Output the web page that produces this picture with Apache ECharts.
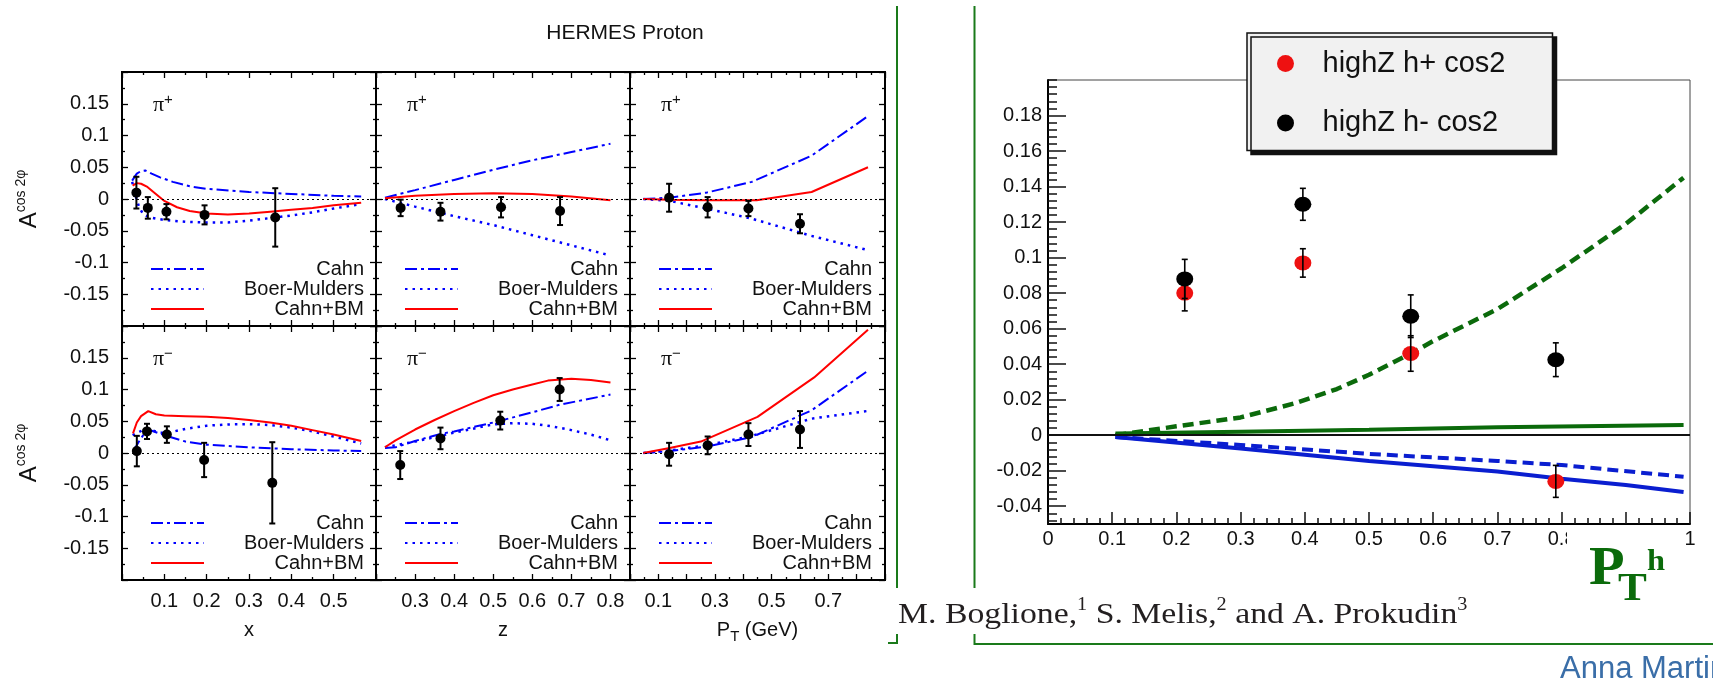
<!DOCTYPE html>
<html>
<head>
<meta charset="utf-8">
<script src="https://cdn.jsdelivr.net/npm/echarts@6/dist/echarts.min.js"></script>
<style>
html,body{margin:0;padding:0;background:#fff;}
#c{width:1713px;height:684px;}
</style>
</head>
<body>
<div id="c"></div>
<script>
// ================= DATA =================
// ---- HERMES proton, pi+ vs x ----
const ppX_x    = [0.034, 0.061, 0.105, 0.195, 0.362];
const ppX_y    = [0.010, -0.014, -0.020, -0.025, -0.029];
const ppX_err  = [0.025, 0.017, 0.012, 0.015, 0.046];
const ppX_cahn = [[0.024,0.029],[0.035,0.040],[0.045,0.044],[0.055,0.045],[0.07,0.040],[0.09,0.034],[0.12,0.027],[0.16,0.020],[0.2,0.016],[0.3,0.011],[0.4,0.008],[0.5,0.005],[0.565,0.004]];
const ppX_bm   = [[0.024,0.027],[0.03,0.010],[0.04,-0.012],[0.05,-0.024],[0.065,-0.029],[0.08,-0.031],[0.1,-0.033],[0.15,-0.036],[0.2,-0.037],[0.25,-0.037],[0.3,-0.034],[0.35,-0.030],[0.4,-0.026],[0.45,-0.021],[0.5,-0.015],[0.565,-0.008]];
const ppX_sum  = [[0.025,0.021],[0.035,0.025],[0.045,0.024],[0.06,0.019],[0.08,0.008],[0.1,-0.003],[0.13,-0.013],[0.16,-0.019],[0.2,-0.023],[0.25,-0.0245],[0.3,-0.023],[0.35,-0.020],[0.4,-0.017],[0.45,-0.014],[0.5,-0.010],[0.565,-0.006]];
// ---- pi+ vs z ----
const ppZ_x    = [0.263, 0.365, 0.520, 0.671];
const ppZ_y    = [-0.014, -0.020, -0.013, -0.019];
const ppZ_err  = [0.013, 0.014, 0.016, 0.022];
const ppZ_cahn = [[0.223,0.002],[0.3,0.014],[0.4,0.030],[0.5,0.046],[0.6,0.061],[0.7,0.074],[0.8,0.087]];
const ppZ_bm   = [[0.223,0.000],[0.3,-0.012],[0.4,-0.027],[0.5,-0.041],[0.6,-0.057],[0.7,-0.073],[0.8,-0.089]];
const ppZ_sum  = [[0.223,0.001],[0.3,0.005],[0.4,0.008],[0.5,0.009],[0.6,0.008],[0.7,0.004],[0.8,-0.002]];
// ---- pi+ vs PT ----
const ppP_x    = [0.138, 0.274, 0.418, 0.600];
const ppP_y    = [0.002, -0.013, -0.015, -0.039];
const ppP_err  = [0.022, 0.016, 0.012, 0.015];
const ppP_cahn = [[0.047,0.000],[0.14,0.002],[0.27,0.010],[0.43,0.027],[0.64,0.068],[0.835,0.129]];
const ppP_bm   = [[0.047,0.000],[0.14,-0.003],[0.27,-0.015],[0.43,-0.031],[0.64,-0.058],[0.835,-0.080]];
const ppP_sum  = [[0.047,0.000],[0.14,-0.001],[0.27,-0.002],[0.447,-0.002],[0.641,0.011],[0.84,0.050]];
// ---- pi- vs x ----
const pmX_x    = [0.035, 0.059, 0.106, 0.194, 0.355];
const pmX_y    = [0.003, 0.034, 0.029, -0.011, -0.047];
const pmX_err  = [0.024, 0.012, 0.013, 0.027, 0.064];
const pmX_cahn = [[0.027,0.003],[0.04,0.018],[0.055,0.033],[0.07,0.035],[0.1,0.028],[0.15,0.018],[0.2,0.013],[0.3,0.009],[0.4,0.006],[0.5,0.004],[0.565,0.003]];
const pmX_bm   = [[0.025,0.028],[0.04,0.033],[0.055,0.038],[0.07,0.036],[0.09,0.032],[0.11,0.032],[0.15,0.038],[0.2,0.043],[0.25,0.045],[0.3,0.0455],[0.35,0.044],[0.4,0.040],[0.45,0.034],[0.5,0.026],[0.565,0.015]];
const pmX_sum  = [[0.026,0.031],[0.035,0.048],[0.045,0.058],[0.062,0.066],[0.08,0.061],[0.1,0.059],[0.15,0.058],[0.2,0.057],[0.25,0.055],[0.3,0.052],[0.35,0.048],[0.4,0.043],[0.45,0.036],[0.5,0.029],[0.565,0.019]];
// ---- pi- vs z ----
const pmZ_x    = [0.262, 0.365, 0.518, 0.670];
const pmZ_y    = [-0.019, 0.023, 0.051, 0.100];
const pmZ_err  = [0.022, 0.017, 0.014, 0.018];
const pmZ_cahn = [[0.223,0.008],[0.25,0.009],[0.3,0.019],[0.365,0.030],[0.4,0.034],[0.5,0.048],[0.6,0.064],[0.67,0.076],[0.8,0.092]];
const pmZ_bm   = [[0.223,0.009],[0.3,0.018],[0.365,0.027],[0.4,0.032],[0.5,0.045],[0.55,0.047],[0.6,0.046],[0.65,0.042],[0.7,0.036],[0.75,0.029],[0.8,0.020]];
const pmZ_sum  = [[0.223,0.009],[0.25,0.020],[0.3,0.037],[0.35,0.052],[0.4,0.066],[0.45,0.079],[0.5,0.091],[0.55,0.100],[0.6,0.108],[0.64,0.114],[0.7,0.117],[0.75,0.115],[0.8,0.111]];
// ---- pi- vs PT ----
const pmP_x    = [0.138, 0.274, 0.418, 0.600];
const pmP_y    = [-0.002, 0.012, 0.029, 0.037];
const pmP_err  = [0.018, 0.014, 0.018, 0.029];
const pmP_cahn = [[0.047,0.000],[0.14,0.003],[0.27,0.010],[0.43,0.025],[0.64,0.067],[0.835,0.128]];
const pmP_bm   = [[0.047,0.000],[0.14,0.004],[0.27,0.012],[0.43,0.027],[0.64,0.054],[0.835,0.066]];
const pmP_sum  = [[0.047,0.000],[0.14,0.008],[0.25,0.018],[0.45,0.057],[0.65,0.119],[0.84,0.194]];

// ---- right panel (highZ, cos2 vs PT^h) ----
const hiX       = [0.213, 0.397, 0.565, 0.791];
const hiPlusY   = [0.080, 0.097, 0.046, -0.026];
const hiPlusErr = [0.010, 0.008, 0.010, 0.009];
const hiMinusY  = [0.088, 0.130, 0.067, 0.0425];
const hiMinusErr= [0.011, 0.009, 0.012, 0.0095];
const greenDash = [[0.105,0.000],[0.2,0.005],[0.3,0.010],[0.385,0.018],[0.45,0.026],[0.5,0.034],[0.565,0.046],[0.6,0.053],[0.7,0.071],[0.8,0.094],[0.9,0.119],[0.99,0.145]];
const greenSolid= [[0.105,0.001],[0.3,0.002],[0.5,0.003],[0.7,0.0045],[0.99,0.0057]];
const blueSolid = [[0.105,-0.001],[0.3,-0.0075],[0.5,-0.0145],[0.7,-0.0205],[0.8,-0.0245],[0.9,-0.028],[0.99,-0.032]];
const blueDash  = [[0.105,-0.001],[0.3,-0.0055],[0.5,-0.0105],[0.7,-0.0145],[0.8,-0.0168],[0.99,-0.0234]];
const rightYTicks = [-0.04,-0.02,0,0.02,0.04,0.06,0.08,0.1,0.12,0.14,0.16,0.18];

// ================= LAYOUT / STYLE =================
const FONT = "'Liberation Sans', Arial, Helvetica, sans-serif";
const SERIF = "'Liberation Serif', 'Times New Roman', serif";
const TXT = '#111';
const fmt = v => String(parseFloat(Number(v).toFixed(3)));

const leftCols = [
  {left:122, width:254, min:0, max:0.6, label: v => (v > 0.05 && v < 0.55) ? fmt(v) : '', name:'{n|x}'},
  {left:376, width:254, min:0.2, max:0.85, label: v => (v > 0.25 && v < 0.82) ? fmt(v) : '', name:'{n|z}'},
  {left:630, width:255, min:0, max:0.9, label: v => { const k = Math.round(v*10); return (k % 2 === 1 && k <= 7) ? fmt(v) : ''; }, name:'{n|P}{t|T}{n| (GeV)}'}
];
const leftRows = [{top:72, height:254, sign:'+'}, {top:326, height:254, sign:'\u2212'}];
const leftPanels = [
  {row:0, col:0, px:ppX_x, py:ppX_y, pe:ppX_err, cahn:ppX_cahn, bm:ppX_bm, sum:ppX_sum},
  {row:0, col:1, px:ppZ_x, py:ppZ_y, pe:ppZ_err, cahn:ppZ_cahn, bm:ppZ_bm, sum:ppZ_sum},
  {row:0, col:2, px:ppP_x, py:ppP_y, pe:ppP_err, cahn:ppP_cahn, bm:ppP_bm, sum:ppP_sum},
  {row:1, col:0, px:pmX_x, py:pmX_y, pe:pmX_err, cahn:pmX_cahn, bm:pmX_bm, sum:pmX_sum},
  {row:1, col:1, px:pmZ_x, py:pmZ_y, pe:pmZ_err, cahn:pmZ_cahn, bm:pmZ_bm, sum:pmZ_sum},
  {row:1, col:2, px:pmP_x, py:pmP_y, pe:pmP_err, cahn:pmP_cahn, bm:pmP_bm, sum:pmP_sum}
];

function errRender(cap, lw, color) {
  return function (params, api) {
    const x = api.value(0), y = api.value(1), e = api.value(2);
    const t = api.coord([x, y + e]);
    const b = api.coord([x, y - e]);
    const st = {stroke: color, lineWidth: lw};
    return {type: 'group', children: [
      {type: 'line', shape: {x1: t[0], y1: t[1], x2: b[0], y2: b[1]}, style: st},
      {type: 'line', shape: {x1: t[0]-cap, y1: t[1], x2: t[0]+cap, y2: t[1]}, style: st},
      {type: 'line', shape: {x1: b[0]-cap, y1: b[1], x2: b[0]+cap, y2: b[1]}, style: st}
    ]};
  };
}

const grid = [], xAxis = [], yAxis = [], series = [], legend = [], graphic = [];
const tickLS = {color: '#000', width: 1.3};
const hiddenSym = {opacity: 0};

leftPanels.forEach((p, i) => {
  const c = leftCols[p.col], r = leftRows[p.row];
  grid.push({left: c.left, top: r.top, width: c.width, height: r.height, show: true,
    borderColor: '#000', borderWidth: 2, backgroundColor: 'transparent'});
  const xb = {gridIndex: i, type: 'value', min: c.min, max: c.max, interval: 0.1,
    axisLine: {show: false, onZero: false}, splitLine: {show: false},
    axisTick: {show: true, inside: true, length: 6, lineStyle: tickLS},
    minorTick: {show: true, splitNumber: 2, length: 3, lineStyle: tickLS}};
  xAxis.push(Object.assign({}, xb, {position: 'bottom',
    axisLabel: {show: p.row === 1, formatter: c.label, margin: 11, fontSize: 20, fontFamily: FONT, color: TXT},
    name: p.row === 1 ? c.name : '', nameLocation: 'middle', nameGap: 36,
    nameTextStyle: {rich: {
      n: {fontSize: 20, fontFamily: FONT, color: TXT, lineHeight: 28},
      t: {fontSize: 15, fontFamily: FONT, color: TXT, lineHeight: 12, verticalAlign: 'bottom'}}}}));
  xAxis.push(Object.assign({}, xb, {position: 'top', axisLabel: {show: false}}));
  const yb = {gridIndex: i, type: 'value', min: -0.2, max: 0.2, interval: 0.05,
    axisLine: {show: false, onZero: false}, splitLine: {show: false},
    axisTick: {show: true, inside: true, length: 6, lineStyle: tickLS},
    minorTick: {show: true, splitNumber: 2, length: 3, lineStyle: tickLS}};
  yAxis.push(Object.assign({}, yb, {position: 'left',
    axisLabel: {show: p.col === 0, formatter: v => Math.abs(v) > 0.19 ? '' : fmt(v), margin: 13, fontSize: 20, fontFamily: FONT, color: TXT},
    name: p.col === 0 ? '{a|A}{s|cos 2\u03c6}' : '', nameLocation: 'middle', nameRotate: 90, nameGap: 78,
    nameTextStyle: {rich: {
      a: {fontSize: 24, fontFamily: FONT, color: TXT, lineHeight: 30},
      s: {fontSize: 14, fontFamily: FONT, color: TXT, lineHeight: 16, verticalAlign: 'top'}}}}));
  yAxis.push(Object.assign({}, yb, {position: 'right', axisLabel: {show: false}}));

  const ax = {xAxisIndex: 2*i, yAxisIndex: 2*i};
  series.push(Object.assign({type: 'line', name: 'Cahn', data: p.cahn, symbol: 'none', z: 2,
    lineStyle: {color: '#0000ff', width: 2, type: [12, 4, 3, 4]}, itemStyle: {color: '#0000ff', opacity: 0}}, ax));
  series.push(Object.assign({type: 'line', name: 'Boer-Mulders', data: p.bm, symbol: 'none', z: 2,
    lineStyle: {color: '#0000ff', width: 2.5, type: [2.5, 5], cap: 'butt'}, itemStyle: {color: '#0000ff', opacity: 0},
    markLine: {silent: true, symbol: 'none', label: {show: false}, animation: false,
      lineStyle: {color: '#000', width: 1, type: [2, 3], opacity: 1}, data: [{yAxis: 0}]}}, ax));
  series.push(Object.assign({type: 'line', name: 'Cahn+BM', data: p.sum, symbol: 'none', z: 2,
    lineStyle: {color: '#ff0000', width: 2}, itemStyle: {color: '#ff0000', opacity: 0}}, ax));
  series.push(Object.assign({type: 'custom', name: 'err', renderItem: errRender(3, 2, '#000'), z: 3,
    encode: {x: 0, y: 1}, data: p.px.map((x, k) => [x, p.py[k], p.pe[k]])}, ax));
  series.push(Object.assign({type: 'scatter', name: 'HERMES', symbol: 'circle', symbolSize: 10, z: 4,
    itemStyle: {color: '#000', opacity: 1}, data: p.px.map((x, k) => [x, p.py[k]])}, ax));

  legend.push({orient: 'vertical', left: c.left + 28, top: r.top + 187, itemWidth: 53, itemHeight: 2,
    itemGap: 0, padding: 0, selectedMode: false, data: ['Cahn', 'Boer-Mulders', 'Cahn+BM'],
    itemStyle: hiddenSym,
    formatter: '{t|{name}}',
    textStyle: {rich: {t: {width: 155, align: 'right', fontSize: 20, lineHeight: 21, fontFamily: FONT, color: TXT}}}});

  graphic.push({type: 'text', x: c.left + 31, y: r.top + 33.6, z: 50,
    style: {text: '{p|\u03c0}{s|' + r.sign + '}', verticalAlign: 'middle', align: 'left',
      rich: {p: {fontSize: 22, fontFamily: SERIF, fill: TXT, lineHeight: 26},
             s: {fontSize: 15, fontFamily: FONT, fill: TXT, lineHeight: 10, verticalAlign: 'top'}}}});
});

// ---------- right panel ----------
const RI = 6;
grid.push({left: 1048, top: 80, width: 642, height: 444, show: true, borderColor: '#444', borderWidth: 1, backgroundColor: 'transparent'});
xAxis.push({gridIndex: RI, type: 'value', min: 0, max: 1, interval: 0.1, position: 'bottom',
  axisLine: {show: true, onZero: false, lineStyle: {color: '#000', width: 2}},
  axisTick: {show: true, inside: true, length: 12, lineStyle: {color: '#111', width: 1.5}},
  minorTick: {show: true, splitNumber: 5, length: 6, lineStyle: {color: '#111', width: 1.5}},
  splitLine: {show: false},
  axisLabel: {margin: 5, fontSize: 20, fontFamily: FONT, color: TXT, formatter: fmt}});
yAxis.push({gridIndex: RI, type: 'value', min: -0.05, max: 0.2, position: 'left',
  axisLine: {show: true, onZero: false, lineStyle: {color: '#000', width: 2}},
  axisTick: {show: true, inside: true, length: 18, customValues: rightYTicks, lineStyle: {color: '#111', width: 1.5}},
  axisLabel: {customValues: rightYTicks, formatter: fmt, margin: 6, fontSize: 20, fontFamily: FONT, color: TXT},
  splitLine: {show: false}});
const rightMinor = [];
for (let k = -12; k <= 50; k++) rightMinor.push(parseFloat((k * 0.004).toFixed(3)));
yAxis.push({gridIndex: RI, type: 'value', min: -0.05, max: 0.2, position: 'left',
  axisLine: {show: false, onZero: false},
  axisTick: {show: true, inside: true, length: 9, customValues: rightMinor, lineStyle: {color: '#111', width: 1.5}},
  axisLabel: {show: false}, splitLine: {show: false}});

const rax = {xAxisIndex: 12, yAxisIndex: 12};
series.push(Object.assign({type: 'line', name: 'model1', data: greenSolid, symbol: 'none', z: 2,
  lineStyle: {color: '#0b6a0b', width: 4},
  markLine: {silent: true, symbol: 'none', label: {show: false}, animation: false,
    lineStyle: {color: '#111', width: 2, type: 'solid', opacity: 1}, data: [{yAxis: 0}]}}, rax));
series.push(Object.assign({type: 'line', name: 'model2', data: greenDash, symbol: 'none', z: 2,
  lineStyle: {color: '#0b6a0b', width: 4.5, type: [11, 6]}}, rax));
series.push(Object.assign({type: 'line', name: 'model3', data: blueSolid, symbol: 'none', z: 2,
  lineStyle: {color: '#0a1ed0', width: 4}}, rax));
series.push(Object.assign({type: 'line', name: 'model4', data: blueDash, symbol: 'none', z: 2,
  lineStyle: {color: '#0a1ed0', width: 4, type: [11, 6]}}, rax));
series.push(Object.assign({type: 'scatter', name: 'highZ h+ cos2', symbol: 'circle', symbolSize: [17, 15], z: 3,
  itemStyle: {color: '#ee1111', opacity: 1}, data: hiX.map((x, k) => [x, hiPlusY[k]])}, rax));
series.push(Object.assign({type: 'scatter', name: 'highZ h- cos2', symbol: 'circle', symbolSize: [17, 15], z: 3,
  itemStyle: {color: '#000', opacity: 1}, data: hiX.map((x, k) => [x, hiMinusY[k]])}, rax));
series.push(Object.assign({type: 'custom', name: 'errP', renderItem: errRender(3, 1.6, '#000'), z: 4,
  encode: {x: 0, y: 1}, data: hiX.map((x, k) => [x, hiPlusY[k], hiPlusErr[k]])}, rax));
series.push(Object.assign({type: 'custom', name: 'errM', renderItem: errRender(3, 1.6, '#000'), z: 4,
  encode: {x: 0, y: 1}, data: hiX.map((x, k) => [x, hiMinusY[k], hiMinusErr[k]])}, rax));

legend.push({orient: 'vertical', left: 1247, top: 33, itemWidth: 64, itemHeight: 17, itemGap: 30.5,
  padding: [16, 40, 13, 30], icon: 'circle', selectedMode: false,
  data: ['highZ h+ cos2', 'highZ h- cos2'],
  backgroundColor: '#f1f1f1', borderColor: '#111', borderWidth: 1.5,
  shadowColor: '#111', shadowBlur: 0, shadowOffsetX: 4, shadowOffsetY: 4,
  formatter: '{t|{name}}',
  textStyle: {rich: {t: {width: 190, fontSize: 29, lineHeight: 30, fontFamily: FONT, color: TXT}}}});

// ---------- annotations ----------
const GREEN = '#1a7a1a';
graphic.push(
  {type: 'text', x: 625, y: 33, z: 50, style: {text: 'HERMES Proton', fontSize: 21, fontFamily: FONT, fill: TXT, align: 'center', verticalAlign: 'middle'}},
  {type: 'line', z: 50, shape: {x1: 897, y1: 6, x2: 897, y2: 588}, style: {stroke: GREEN, lineWidth: 2}},
  {type: 'polyline', z: 50, shape: {points: [[897, 634], [897, 643], [888, 643]]}, style: {stroke: GREEN, lineWidth: 2, fill: null}},
  {type: 'line', z: 50, shape: {x1: 974.5, y1: 6, x2: 974.5, y2: 588}, style: {stroke: GREEN, lineWidth: 2}},
  {type: 'polyline', z: 50, shape: {points: [[974.5, 634], [974.5, 644], [1713, 644]]}, style: {stroke: GREEN, lineWidth: 2, fill: null}},
  {type: 'rect', z: 100, shape: {x: 1567, y: 525, width: 119, height: 95}, style: {fill: '#fff'}},
  {type: 'text', x: 898, y: 615, z: 101, scaleX: 1.125,
    style: {text: 'M. Boglione,{s|1} S. Melis,{s|2} and A. Prokudin{s|3}', fontSize: 30, fontFamily: SERIF,
      fill: '#231f20', lineHeight: 38, align: 'left', verticalAlign: 'middle',
      rich: {s: {fontSize: 18, fontFamily: SERIF, fill: '#231f20', lineHeight: 17, verticalAlign: 'top'}}}},
  {type: 'text', x: 1589, y: 570.5, z: 101, scaleX: 1.08, style: {text: 'P', fontSize: 54, fontWeight: 'bold', fontFamily: SERIF, fill: '#0b6b0b', verticalAlign: 'middle'}},
  {type: 'text', x: 1618, y: 590, z: 101, scaleX: 1.08, style: {text: 'T', fontSize: 40, fontWeight: 'bold', fontFamily: SERIF, fill: '#0b6b0b', verticalAlign: 'middle'}},
  {type: 'text', x: 1647, y: 562.5, z: 101, scaleX: 1.08, style: {text: 'h', fontSize: 30, fontWeight: 'bold', fontFamily: SERIF, fill: '#0b6b0b', verticalAlign: 'middle'}},
  {type: 'text', x: 1560, y: 669, z: 101, style: {text: 'Anna Martin', fontSize: 31, fontFamily: FONT, fill: '#3a6ea8', verticalAlign: 'middle'}}
);

const chart = echarts.init(document.getElementById('c'), null, {renderer: 'canvas'});
chart.setOption({
  animation: false,
  backgroundColor: '#fff',
  grid, xAxis, yAxis, series, legend, graphic
});
</script>
</body>
</html>
